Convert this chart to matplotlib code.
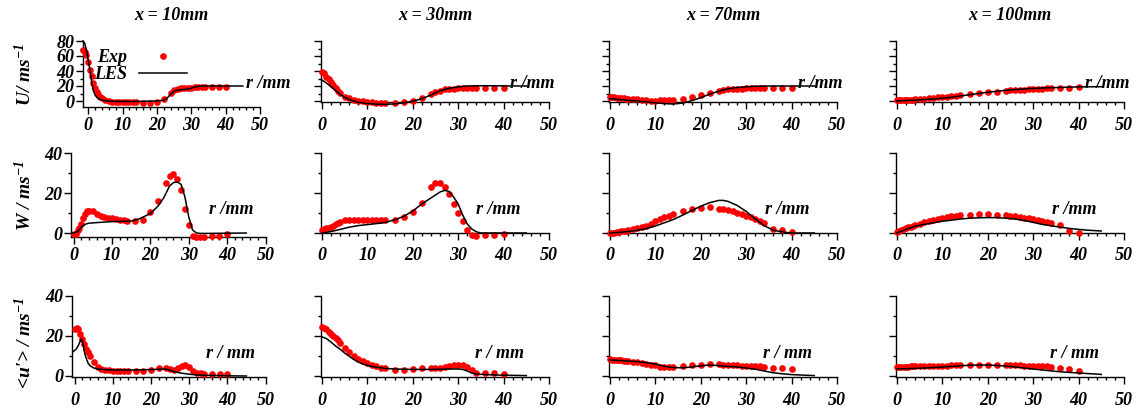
import numpy as np
import matplotlib
matplotlib.use('Agg')
import matplotlib.pyplot as plt
from matplotlib.ticker import MultipleLocator
from matplotlib.lines import Line2D

plt.rcParams['font.family'] = ['Liberation Serif', 'DejaVu Serif']
plt.rcParams['font.weight'] = 'bold'
plt.rcParams['font.style'] = 'italic'
plt.rcParams['mathtext.fontset'] = 'custom'
plt.rcParams['mathtext.rm'] = 'Liberation Serif:bold:italic'
plt.rcParams['mathtext.it'] = 'Liberation Serif:bold:italic'
plt.rcParams['mathtext.bf'] = 'Liberation Serif:bold:italic'

# ---------------- data ----------------
titles = ['x = 10mm', 'x = 30mm', 'x = 70mm', 'x = 100mm']
ylabels = ['U/ ms$^{-1}$', 'W / ms$^{-1}$', "<u'> / ms$^{-1}$"]
rlabels = ['r /mm', 'r /mm', 'r / mm']
xticks = [0, 10, 20, 30, 40, 50]

# experimental radial stations
r_exp = [0, 0.5, 1, 1.5, 2, 2.5, 3, 3.5, 4, 5, 6, 7, 8, 9, 10, 11, 12, 13, 14,
         16, 18, 20, 22, 24, 25, 26, 27, 28, 29, 30, 31, 32, 33, 34, 36, 38, 40]
r_exp_u10 = [-1.5, -1, -0.5, 0, 0.5, 1, 1.5, 2, 2.5, 3, 3.5, 4, 5, 6, 7, 8, 9, 10, 11, 12, 13, 14,
             16, 18, 20, 22, 24, 25, 26, 27, 28, 29, 30, 31, 32, 33, 34, 36, 38, 40]

# ---- U (row 1) ----
u_exp_10 = [68, 66, 62, 52, 42, 33, 24, 17, 12.5, 9, 5.5, 3.5, 1.3, 0, -1, -1, -1.5, -1.5, -1.5, -1.5, -1.5, -1.5,
            -2, -2, -1, 3, 11, 15, 16.5, 17, 17, 17.5, 18, 18.5, 19, 19, 19, 18.5, 18.5, 18.5]
u_exp_30 = [39, 37, 32.5, 29, 25, 21.5, 18, 14, 10.5, 6, 3.5, 1.5, 0.5, 0, -1, -1.5, -2, -2, -2.2,
            -2.2, -1.8, 0.4, 3.5, 9, 12, 14, 15.5, 16, 16.5, 17, 17, 17.5, 17.5, 18, 18, 18, 18]
u_exp_70 = [5.8, 5.4, 4.9, 4.6, 4.2, 3.9, 3.6, 3.3, 3.1, 2.7, 2.2, 1.6, 1, 0.5, 0.4, 0.8, 1.3, 2, 1.8,
            3.1, 5.3, 8, 10.7, 13.8, 14.7, 15.5, 15.8, 16.2, 16.5, 16.7, 16.9, 17, 17.2, 17.3, 17.3, 17.3, 18]
u_exp_100 = [1.3, 1.3, 1.3, 1.3, 1.3, 1.6, 1.8, 2, 2.1, 2.6, 3, 3.4, 4, 4.8, 5.5, 6, 6.5, 7, 7.8,
             8.9, 10.2, 11.6, 12.4, 13.8, 14.3, 14.7, 15, 15.3, 15.6, 15.9, 16.1, 16.4, 16.7, 16.9, 16.9, 17.3, 18.2]

r_les_u10 = [-1.5, -1, -0.5, 0, 0.5, 1, 1.5, 2, 2.5, 3, 4, 5, 6, 8, 10, 15, 20, 22, 23, 24, 25, 26, 27, 28, 29,
             30, 31, 32, 33, 35, 40, 45]
u_les_10 = [80, 77, 68, 55, 42, 26, 14, 8, 5, 3, 1.3, 0.5, 0, -0.5, -0.5, -0.5, 0, 1, 4, 9, 13, 14.5, 15, 15.5, 16,
            17, 18.5, 19.5, 20, 20, 20, 20]
r_les_u30 = [0, 1, 2, 3, 4, 5, 6, 7, 8, 10, 12, 14, 16, 18, 20, 22, 24, 26, 28, 30, 32, 34, 36, 40, 45]
u_les_30 = [28, 24, 19, 14, 9, 5, 2, 0, -1.7, -3.3, -4.2, -4.4, -3.8, -2.5, -0.2, 3, 8, 13.8, 17, 18.8, 20,
            20.3, 20.4, 20.2, 20]
r_les_u70 = [0, 2, 4, 6, 8, 10, 12, 14, 16, 18, 20, 22, 24, 26, 28, 30, 32, 35, 40, 45]
u_les_70 = [3.1, 2, 1, 0, -1.2, -2.4, -3.5, -4, -2.7, 0.5, 4.4, 9.3, 13.2, 16.3, 18, 19, 19.6, 20, 20, 20]
r_les_u100 = [0, 4, 8, 12, 16, 20, 24, 28, 32, 36, 40, 45]
u_les_100 = [0, 1.2, 2.6, 5, 8.4, 11.7, 14.3, 16.2, 17.4, 18.1, 18.9, 19.1]

# ---- W (row 2) ----
w_exp_10 = [-0.3, -0.5, 1.5, 2.7, 4.5, 7.5, 9.5, 10.8, 11.2, 11, 9.5, 8.7, 8, 7.6, 7.3, 7, 6.6, 6.3, 6,
            6, 6.7, 10.5, 15.8, 25, 28.5, 29.3, 27.2, 21.3, 12.2, 3.8, -1.5, -2, -2, -2, -1.7, -1.3, -0.7]
w_exp_30 = [1.3, 2, 2.5, 2.7, 3.1, 3.7, 4.4, 5.2, 5.7, 6.3, 6.3, 6.3, 6.3, 6.3, 6.3, 6.3, 6.3, 6.3, 6.3,
            6.7, 8, 10.5, 15, 23, 25.2, 25.2, 23, 19.3, 14.3, 10, 5.8, 1.3, -1.2, -1.5, -1.2, -0.8, -0.5]
w_exp_70 = [0, 0, 0.1, 0.3, 0.5, 0.8, 1, 1.2, 1.5, 1.9, 2.4, 2.9, 3.6, 4.6, 5.8, 7, 7.8, 8.6, 9.6,
            11, 12.2, 12.7, 12.8, 12.2, 11.8, 11.3, 10.8, 10.2, 9.4, 8.6, 7.8, 7, 5.9, 5, 2.2, 1.7, 0.5]
w_exp_100 = [0.5, 0.9, 1.4, 1.9, 2.3, 2.8, 3.2, 3.6, 4, 4.7, 5.3, 6, 6.6, 7.2, 7.6, 8, 8.4, 8.6, 8.8,
             9.2, 9.3, 9.3, 9.2, 8.8, 8.5, 8.3, 8, 7.7, 7.3, 6.8, 6.7, 6.2, 5.5, 5, 3.8, 1, 0.2]

r_les_w10 = [-0.5, 0, 0.5, 1, 1.5, 2, 2.5, 3, 3.5, 4, 6, 10, 15, 17, 20, 22, 23.5, 25, 26, 27, 28, 29, 30,
             31, 32, 33, 35, 40, 45]
w_les_10 = [0, 0.1, 0.3, 0.7, 1.8, 3, 3.7, 4.3, 4.7, 4.9, 5.2, 5.7, 6, 7, 9.7, 13.5, 17.7, 23.5, 25.2, 25.5,
            24.3, 18, 8, 1.5, 0, -0.2, -0.2, -0.1, 0]
r_les_w30 = [0, 2, 4, 6, 8, 10, 12, 14, 16, 18, 20, 22, 24, 26, 27, 28, 29, 30, 31, 32, 33, 34, 35, 40, 45]
w_les_30 = [0, 0.7, 1.8, 2.9, 3.7, 4.2, 4.7, 5.3, 6.6, 8.3, 11, 14.5, 17.5, 20.5, 21.3, 20.8, 18, 14.5, 9,
            4.5, 2, 0.6, 0, 0, 0]
r_les_w70 = [0, 3, 6, 8, 10, 12, 14, 16, 18, 20, 22, 24, 25, 26, 28, 30, 32, 34, 36, 38, 40, 45]
w_les_70 = [0, 0.5, 1.3, 2.2, 3.5, 5.1, 6.8, 8.9, 11.2, 13.4, 15.2, 16.3, 16.3, 15.8, 13.8, 10.8, 7, 3.6,
            1.4, 0.5, 0, 0]
r_les_w100 = [0, 2, 4, 6, 8, 10, 12, 14, 16, 18, 20, 22, 24, 26, 28, 30, 32, 34, 36, 38, 40, 42, 45]
w_les_100 = [0, 1.8, 3.4, 4.3, 5.1, 5.9, 6.4, 7, 7.4, 7.6, 7.7, 7.7, 7.4, 7, 6.3, 5.3, 4.3, 3.6, 2.9, 2.3,
             1.8, 1.4, 1]

# ---- <u'> (row 3) ----
up_exp_10 = [23.7, 24, 23.4, 21, 18.5, 16, 13.5, 12, 10, 6.8, 4.6, 3.4, 3, 2.8, 2.7, 2.6, 2.5, 2.5, 2.4,
             2.3, 2.3, 2.8, 3.8, 4.1, 3.3, 3, 4.1, 5.1, 5.6, 4.6, 2.7, 1.5, 1.3, 1.2, 1, 1, 1]
up_exp_30 = [24.5, 24.2, 23.3, 22.2, 21, 20, 18.9, 17.9, 16.6, 14, 12, 10, 8.5, 7.3, 6.5, 5.5, 4.8, 4.2, 3.9,
             3, 3, 3.3, 3.8, 4.1, 4.1, 4.1, 4.6, 5.1, 5.5, 5.5, 5.5, 4.6, 3, 1.7, 1.3, 1.3, 1.2]
up_exp_70 = [8.3, 8.2, 8.1, 8, 7.9, 7.8, 7.6, 7.5, 7.3, 7.1, 6.8, 6.3, 5.9, 5.6, 5.4, 4.7, 4.6, 4.6, 4.6,
             5.1, 5.5, 5.5, 5.8, 5.8, 5.6, 5.5, 5.4, 5.3, 5.2, 5.1, 5, 4.9, 4.8, 4.7, 4.1, 3.8, 3.3]
up_exp_100 = [4.3, 4.4, 4.5, 4.6, 4.6, 4.7, 4.8, 4.9, 5, 5, 5, 5.1, 5.1, 5.1, 5.2, 5.2, 5.3, 5.3, 5.4,
              5.5, 5.5, 5.5, 5.5, 5.5, 5.4, 5.3, 5.3, 5.2, 5.1, 5, 5, 4.9, 4.8, 4.6, 4.1, 3.3, 2.7]

r_les_up10 = [-0.5, 0, 0.5, 1, 1.5, 1.8, 2.2, 2.6, 3, 3.5, 4, 5, 6, 8, 10, 15, 20, 23.5, 24.5, 26, 28, 30, 32,
              35, 40, 45]
up_les_10 = [12, 12.8, 13.7, 15.4, 17.7, 18.5, 16, 11.5, 9, 6.5, 5.2, 4, 3.5, 3.2, 3, 3, 3.2, 3.5, 3.2, 2.2,
             1.4, 0.9, 0.5, 0.3, 0.1, 0]
r_les_up30 = [0, 1, 2, 3, 4, 5, 6, 7, 8, 9, 10, 11, 12, 14, 16, 20, 24, 28, 30, 31, 32, 33, 34, 36, 38, 40, 45]
up_les_30 = [19.6, 18.7, 17, 15, 13.4, 11.5, 9.9, 8.3, 7, 6, 5.3, 4.8, 4.4, 3.8, 3.5, 3.3, 3.3, 3.5, 3.5, 3.3,
             2.5, 1.5, 1, 0.7, 0.5, 0.4, 0.2]
r_les_up70 = [0, 2, 4, 6, 8, 10, 12, 14, 16, 18, 20, 22, 24, 26, 28, 30, 32, 34, 36, 38, 40, 45]
up_les_70 = [8, 7.8, 7.5, 7.2, 6.7, 6, 4.8, 4.2, 4.1, 4.5, 5.1, 5.5, 5.2, 4.8, 4.5, 4, 3.4, 2.5, 1.6, 1.1,
             0.7, 0.2]
r_les_up100 = [0, 4, 8, 12, 16, 20, 24, 28, 32, 36, 40, 45]
up_les_100 = [3.5, 3.8, 4.2, 4.8, 5.4, 5.5, 5, 4, 3, 2.1, 1.5, 0.8]

exp_r = [[r_exp_u10, r_exp, r_exp, r_exp],
         [r_exp, r_exp, r_exp, r_exp],
         [r_exp, r_exp, r_exp, r_exp]]
exp_v = [[u_exp_10, u_exp_30, u_exp_70, u_exp_100],
         [w_exp_10, w_exp_30, w_exp_70, w_exp_100],
         [up_exp_10, up_exp_30, up_exp_70, up_exp_100]]
les_r = [[r_les_u10, r_les_u30, r_les_u70, r_les_u100],
         [r_les_w10, r_les_w30, r_les_w70, r_les_w100],
         [r_les_up10, r_les_up30, r_les_up70, r_les_up100]]
les_v = [[u_les_10, u_les_30, u_les_70, u_les_100],
         [w_les_10, w_les_30, w_les_70, w_les_100],
         [up_les_10, up_les_30, up_les_70, up_les_100]]

# ---------------- layout (pixels) ----------------
W, H = 1138, 413
fig = plt.figure(figsize=(W / 100, H / 100), dpi=100)

col_left = [[83, 321, 609, 896], [71, 321, 609, 896], [72, 321, 609, 896]]
col_right = [[260, 549, 837, 1124], [265.5, 549, 837, 1124], [265.5, 549, 837, 1124]]
row_top = [41, 153, 296]
row_bottom = [[107, 102, 102, 102], [237, 233, 233, 233], [377, 377, 377, 377]]
xlims_left = [[-1.5, -0.2, -0.2, -0.2], [-0.7, -0.2, -0.2, -0.2], [-0.7, -0.2, -0.2, -0.2]]
ylims = [[(-8, 80), (-1.3, 80), (-1.3, 80), (-1.3, 80)],
         [(-2, 40), (0, 40), (0, 40), (0, 40)],
         [(-0.5, 40), (-0.5, 40), (-0.5, 40), (-0.5, 40)]]
xpads = [[2.2, 6.0, 6.0, 6.0], [2.2, 5.1, 5.1, 5.1], [5.8, 5.8, 5.8, 5.8]]
rlab_pos = [[(46, 24), (41.5, 24), (41.5, 24), (41.5, 24)],
            [(35.2, 11.5), (34, 11.5), (34.2, 11.5), (34.2, 11.5)],
            [(34.3, 11), (33.7, 11), (33.6, 11), (33.8, 11)]]
ylab_y = [75, 195, 343]

FS = 13
axes = [[None] * 4 for _ in range(3)]
for i in range(3):
    for j in range(4):
        l, r_ = col_left[i][j], col_right[i][j]
        t, b = row_top[i], row_bottom[i][j]
        ax = fig.add_axes([l / W, 1 - b / H, (r_ - l) / W, (b - t) / H])
        axes[i][j] = ax
        ax.set_xlim(xlims_left[i][j], 50)
        ax.set_ylim(*ylims[i][j])
        for s in ['top', 'right']:
            ax.spines[s].set_visible(False)
        for s in ['left', 'bottom']:
            ax.spines[s].set_linewidth(1.0)
        ax.xaxis.set_major_locator(MultipleLocator(10))
        ax.xaxis.set_minor_locator(MultipleLocator(2))
        ax.yaxis.set_major_locator(MultipleLocator(20))
        ax.yaxis.set_minor_locator(MultipleLocator(10))
        ax.tick_params(which='major', direction='out', length=5, width=1, labelsize=FS)
        ax.tick_params(which='minor', direction='out', length=2.5, width=1)
        ax.tick_params(axis='x', which='major', pad=xpads[i][j])
        ax.tick_params(axis='y', which='major', pad=1)
        if j > 0:
            ax.tick_params(axis='y', labelleft=False)
        ax.set_xticks(xticks)
        ax.patch.set_alpha(0)

        ax.plot(exp_r[i][j], exp_v[i][j], 'o', color='#ff0000', ms=4.8, mec='none', clip_on=False, zorder=3)
        ax.plot(les_r[i][j], les_v[i][j], '-', color='black', lw=1.1, clip_on=False, zorder=4)
        ax.text(rlab_pos[i][j][0], rlab_pos[i][j][1], rlabels[i], ha='left', va='center', fontsize=FS)

    fig.text(25 / W, 1 - ylab_y[i] / H, ylabels[i], rotation=90, ha='center', va='center', fontsize=14)

for j in range(4):
    cx = (col_left[0][j] + col_right[0][j]) / 2
    fig.text(cx / W, 1 - 15 / H, titles[j], ha='center', va='center', fontsize=FS)

handles = [Line2D([], [], marker='o', ls='none', color='#ff0000', ms=4.8, mec='none'),
           Line2D([], [], color='black', lw=1.1)]
axes[0][0].legend(handles, ['Exp', 'LES'], loc='upper left', bbox_to_anchor=(94 / W, 1 - 49 / H),
                  bbox_transform=fig.transFigure, markerfirst=False, frameon=False, fontsize=FS,
                  handlelength=2.7, handletextpad=0.65, labelspacing=0.0, borderpad=0, borderaxespad=0)

fig.savefig('out.png', dpi=100)
